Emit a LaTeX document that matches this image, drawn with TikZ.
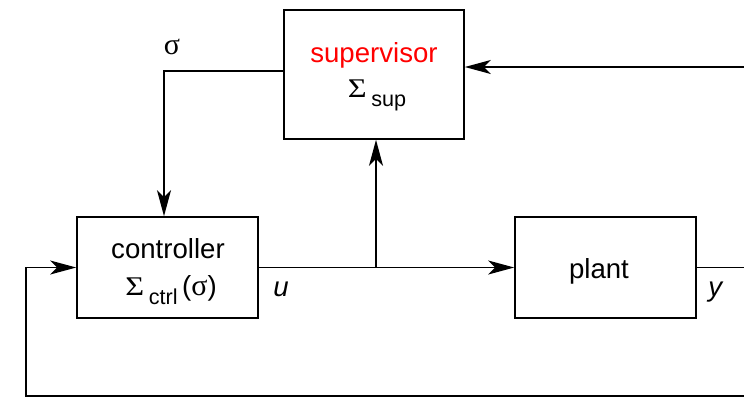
\documentclass[tikz,border=0pt]{standalone}
\usepackage{fontspec}
\setmainfont{Liberation Sans}
\newfontfamily\symfont{Liberation Serif}
\usetikzlibrary{arrows.meta,positioning}

\newcommand{\bigsig}{\scalebox{1.2}[1]{\fontsize{13.5}{13.5}\symfont Σ}}
\newcommand{\lowsub}[1]{\raisebox{-4.5pt}{\fontsize{10.8}{10.8}\selectfont #1}}

\begin{document}
\begin{tikzpicture}[x=0.5pt,y=-0.5pt,line width=0.8pt,
    blk/.style={draw,inner sep=0pt,minimum width=90.5pt,minimum height=50.5pt},
    txt/.style={anchor=base,inner sep=0pt,font=\fontsize{13.8}{16}\selectfont},
    arr/.style={-{Stealth[length=13pt,width=7pt,inset=3.5pt]}}]
    \useasboundingbox (0,0) rectangle (744,398);
    \node[blk,minimum width=90pt,minimum height=64.5pt] (sup) at (374,74.5) {};
    \node[blk] (ctrl) at (167.5,267.5) {};
    \node[blk] (plant) at (605.5,267.5) {};
    \node[txt,text=red] (supname) at (374,62) {supervisor};
    \node[txt] (supsig) at (377,97) {\bigsig\,\lowsub{sup}};
    \node[txt] (ctrlname) at (168,258) {controller};
    \node[txt] (ctrlsig) at (171,295) {\bigsig\,\lowsub{ctrl}\,({\fontsize{15}{15}\symfont σ})};
    \node[txt] (plantname) at (599,278) {plant};
    \node[txt] (sig) at (172,54) {\fontsize{15}{15}\symfont σ};
    \node[txt] (u) at (281,296) {\textit{u}};
    \node[txt] (y) at (716,296) {\textit{y}};
    \coordinate (re) at (744,267.5);
    \coordinate (tr) at (744,67);
    \coordinate (be) at (744,396);
    \coordinate (bl) at (26,396);
    \draw[arr] (ctrl.east) -- (plant.west);
    \draw[arr] (ctrl.east -| 376,0) -- (376,0 |- sup.south);
    \draw[arr] ([yshift=1.75pt]sup.west) -| ([xshift=-1.75pt]ctrl.north);
    \draw (plant.east) -- (re);
    \draw[arr] (tr) -- (tr -| sup.east);
    \draw[arr] (be) -- (bl) |- (ctrl.west);
  \end{tikzpicture}
\end{document}
